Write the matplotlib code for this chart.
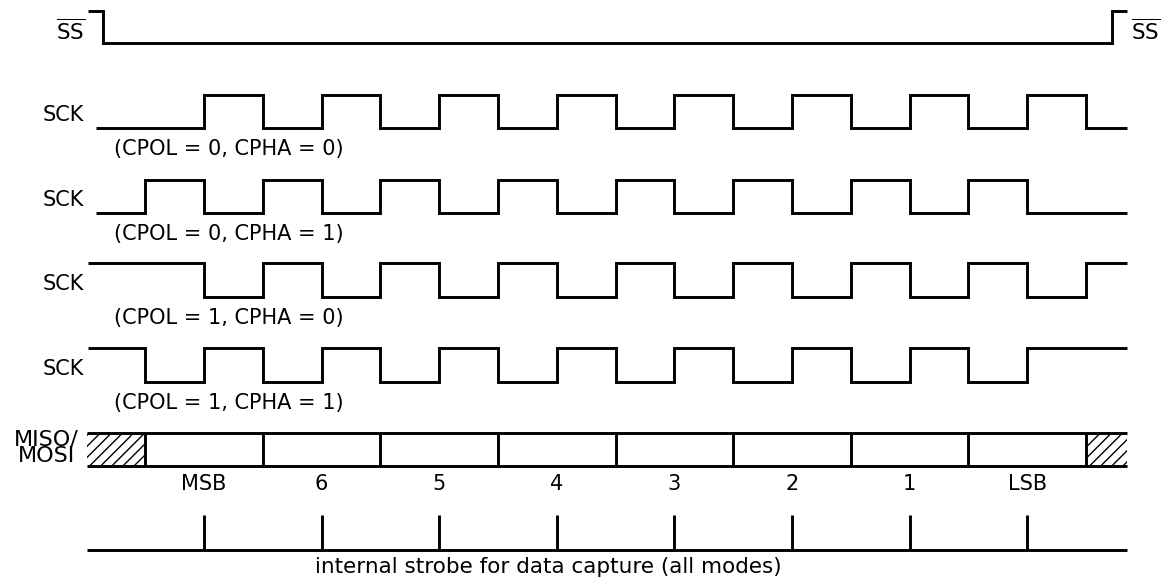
import matplotlib
matplotlib.use("Agg")
import matplotlib.pyplot as plt

# ---------------- data (time in half-clock units, t=0 = first strobe) -------------
ss_fall, ss_rise = -1.72, 15.44
ss_start, ss_end = -1.97, 15.70

sck_names = ["(CPOL = 0, CPHA = 0)", "(CPOL = 0, CPHA = 1)",
             "(CPOL = 1, CPHA = 0)", "(CPOL = 1, CPHA = 1)"]
sck_idle = [0, 0, 1, 1]
sck_start = [-1.84, -1.84, -1.97, -1.97]
sck_end = 15.70
sck_edges = [
    [0, 1, 2, 3, 4, 5, 6, 7, 8, 9, 10, 11, 12, 13, 14, 15],
    [-1, 0, 1, 2, 3, 4, 5, 6, 7, 8, 9, 10, 11, 12, 13, 14],
    [0, 1, 2, 3, 4, 5, 6, 7, 8, 9, 10, 11, 12, 13, 14, 15],
    [-1, 0, 1, 2, 3, 4, 5, 6, 7, 8, 9, 10, 11, 12, 13, 14],
]
bit_labels = ["MSB", "6", "5", "4", "3", "2", "1", "LSB"]
bit_edges = [-1, 1, 3, 5, 7, 9, 11, 13, 15]
strobe_times = [0, 2, 4, 6, 8, 10, 12, 14]
data_start, data_end = -1.99, 15.70

# ---------------- layout (pixel rows, figure is 1161 x 582) -----------------------
W, H = 1161, 582
X0, U = 204.0, 58.8          # pixel of t=0, pixels per half clock
ss_y = (11, 43)              # (high, low)
sck_y = [(95, 128), (180, 213), (263, 297), (348, 382)]
data_y = (433, 466)
strobe_base, strobe_top = 550, 515
LW = 2.1
FONT = "DejaVu Sans"
FS = 15

plt.rcParams["font.family"] = [FONT]
plt.rcParams["mathtext.fontset"] = "custom"
plt.rcParams["mathtext.rm"] = FONT
plt.rcParams["hatch.linewidth"] = 1.0

fig = plt.figure(figsize=(W / 100, H / 100), dpi=100)
fig.patch.set_facecolor("white")
ax = fig.add_axes([0, 0, 1, 1])
ax.set_xlim(-X0 / U, (W - X0) / U)
ax.set_ylim(H, 0)
ax.axis("off")
# pixel-coordinate overlay for free text
lab = fig.add_axes([0, 0, 1, 1], facecolor="none")
lab.set_xlim(0, W)
lab.set_ylim(H, 0)
lab.axis("off")


def trace(start, edges, end, level0, yhl):
    xs = [start] + list(edges) + [end]
    lv = [level0]
    for _ in edges:
        lv.append(1 - lv[-1])
    lv.append(lv[-1])
    ys = [yhl[0] if v else yhl[1] for v in lv]
    ax.step(xs, ys, where="post", color="black", lw=LW,
            solid_joinstyle="miter", solid_capstyle="butt")


# SS
trace(ss_start, [ss_fall, ss_rise], ss_end, 1, ss_y)
ss_txt = r"$\overline{\mathrm{SS}}$"
lab.text(85, 31, ss_txt, ha="right", va="center", fontsize=FS + 0.5)
lab.text(1131, 31, ss_txt, ha="left", va="center", fontsize=FS + 0.5)

# SCK rows
for i in range(4):
    trace(sck_start[i], sck_edges[i], sck_end, sck_idle[i], sck_y[i])
    lab.text(84, sck_y[i][1] - 13, "SCK", ha="right", va="center", fontsize=FS)
    lab.text(114, sck_y[i][1] + 21, sck_names[i], ha="left", va="center",
             fontsize=FS)

# MISO / MOSI
ax.hlines([data_y[0], data_y[1]], data_start, data_end, color="black", lw=LW)
ax.vlines(bit_edges, data_y[0], data_y[1], color="black", lw=LW)
ax.fill_between([data_start, bit_edges[0]], data_y[0], data_y[1],
                facecolor="white", edgecolor="black", hatch="///", lw=0)
ax.fill_between([bit_edges[-1], data_end], data_y[0], data_y[1],
                facecolor="white", edgecolor="black", hatch="///", lw=0)
lab.text(46, 448, "MISO/\nMOSI", ha="center", va="center", fontsize=FS + 1,
         linespacing=0.78)
for t, s in zip(strobe_times, bit_labels):
    ax.text(t, 484, s, ha="center", va="center", fontsize=FS)

# strobe
ax.hlines(strobe_base, data_start, data_end, color="black", lw=LW)
ax.vlines(strobe_times, strobe_top, strobe_base, color="black", lw=LW)
lab.text(548, 567, "internal strobe for data capture (all modes)",
         ha="center", va="center", fontsize=FS + 0.5)

fig.savefig("out.png", dpi=100, facecolor="white")
